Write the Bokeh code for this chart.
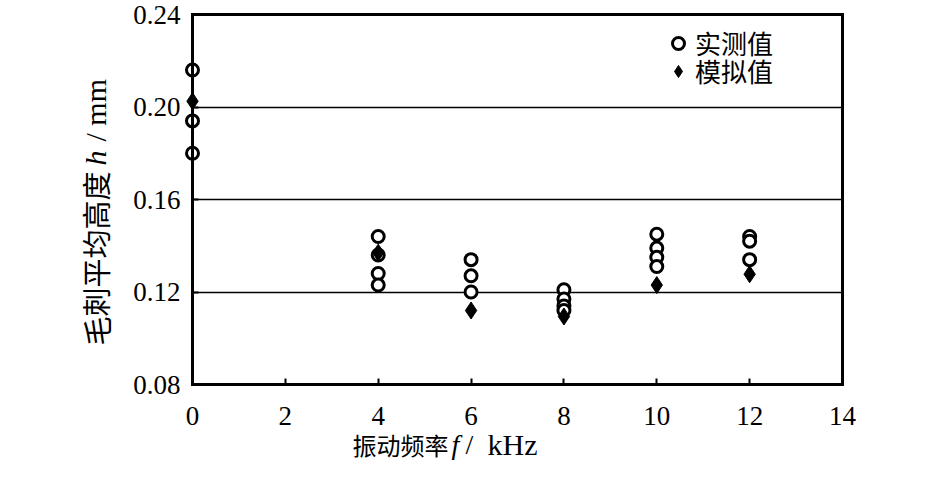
from bokeh.plotting import figure
from bokeh.models import (Range1d, FixedTicker, Label, Legend, LegendItem,
                          NumeralTickFormatter, LinearAxis)
from bokeh.embed import file_html
from bokeh.resources import INLINE

# measured values (实测值)
meas_f = [0, 0, 0, 4, 4, 4, 4, 6, 6, 6, 8, 8, 8, 8, 10, 10, 10, 10, 12, 12, 12]
meas_h = [0.216, 0.194, 0.180,
          0.144, 0.136, 0.128, 0.123,
          0.134, 0.127, 0.120,
          0.121, 0.117, 0.114, 0.112,
          0.145, 0.139, 0.135, 0.131,
          0.144, 0.142, 0.134]
# simulated values (模拟值)
sim_f = [0, 4, 6, 8, 10, 12]
sim_h = [0.2025, 0.137, 0.112, 0.1094, 0.123, 0.1277]

x_ticks = [0, 2, 4, 6, 8, 10, 12, 14]
y_ticks = [0.08, 0.12, 0.16, 0.20, 0.24]
y_grid = [0.12, 0.16, 0.20]
x_lim = (0, 14)
y_lim = (0.08, 0.24)

SERIF = "Liberation Serif, 'Noto Sans CJK SC'"
CJK = "'Noto Sans CJK SC', Liberation Serif"

W, H = 929, 464
# plot box inside the canvas (pixels): left, right, top, bottom
BL, BR, BT, BB = 192, 842, 14, 384
xs = (BR - BL) / (x_lim[1] - x_lim[0])
ys = (BB - BT) / (y_lim[1] - y_lim[0])
x_range = Range1d(x_lim[0] - BL / xs, x_lim[1] + (W - BR) / xs)
y_range = Range1d(y_lim[0] - (H - BB) / ys, y_lim[1] + BT / ys)

p = figure(width=W, height=H, output_backend="svg", toolbar_location=None,
           x_range=x_range, y_range=y_range, x_axis_location=None, y_axis_location=None,
           min_border=0)
p.background_fill_color = "white"
p.border_fill_color = "white"
p.outline_line_color = None
p.xgrid.visible = False
p.ygrid.visible = False


def style_main(ax):
    ax.axis_line_width = 3
    ax.axis_line_color = "black"
    ax.axis_line_cap = "square"
    ax.major_tick_in = 6
    ax.major_tick_out = 0
    ax.major_tick_line_width = 2
    ax.major_tick_line_color = "black"
    ax.minor_tick_line_color = None
    ax.major_label_text_font = SERIF
    ax.major_label_text_font_size = "27px"
    ax.major_label_text_color = "black"


xaxis = LinearAxis(fixed_location=y_lim[0], bounds=x_lim, ticker=FixedTicker(ticks=x_ticks),
                   major_label_standoff=22)
style_main(xaxis)
p.add_layout(xaxis, "below")

yaxis = LinearAxis(fixed_location=x_lim[0], bounds=y_lim, ticker=FixedTicker(ticks=y_ticks),
                   formatter=NumeralTickFormatter(format="0.00"), major_label_standoff=12)
style_main(yaxis)
p.add_layout(yaxis, "left")


def plain_line(side, loc, bounds, width, level="guide"):
    ax = LinearAxis(fixed_location=loc, bounds=bounds, ticker=FixedTicker(ticks=[]),
                    axis_line_width=width, axis_line_color="black", axis_line_cap="square",
                    major_tick_line_color=None, minor_tick_line_color=None,
                    major_label_text_font_size="0px", level=level)
    p.add_layout(ax, side)


# box top and right edges
plain_line("above", y_lim[1], x_lim, 3)
plain_line("right", x_lim[1], y_lim, 3)
# horizontal grid lines
for g in y_grid:
    plain_line("below", g, x_lim, 1.6, level="underlay")

r_meas = p.scatter(meas_f, meas_h, marker="circle", size=12, fill_color="white",
                   line_color="black", line_width=3)
r_sim = p.scatter(sim_f, sim_h, marker="diamond", size=17, fill_color="black",
                  line_color="black", line_width=1)


def one_legend(label, rend, y_off):
    return Legend(items=[LegendItem(label=label, renderers=[rend])],
                  location=(663, y_off), padding=0, margin=0, spacing=0,
                  glyph_width=30, glyph_height=30, label_height=28, label_standoff=2,
                  border_line_color=None, background_fill_alpha=0,
                  label_text_font=CJK, label_text_font_size="26px", label_text_color="black")


p.add_layout(one_legend("实测值", r_meas, 403))
p.add_layout(one_legend("模拟值", r_sim, 375))

# y axis label pieces (rotated), screen units from canvas bottom-left
for txt, yo, font, style, size in [("毛刺平均高度", 119, "Noto Sans CJK SC", "normal", "29px"),
                                    ("h", 299, "Liberation Serif", "italic", "30px"),
                                    ("/ mm", 323, "Liberation Serif", "normal", "30px")]:
    p.add_layout(Label(x=95, y=yo, x_units="screen", y_units="screen", text=txt,
                       angle=1.5708, text_align="left", text_baseline="middle",
                       text_font=font, text_font_style=style, text_font_size=size,
                       text_color="black"))

# x axis label pieces, screen units from canvas bottom-left
for txt, xo, align, font, style, size in [("振动频率", 448, "right", "Noto Sans CJK SC", "normal", "24px"),
                                           ("f", 451, "left", "Liberation Serif", "italic", "28px"),
                                           ("/", 465, "left", "Liberation Serif", "normal", "28px"),
                                           ("kHz", 487, "left", "Liberation Serif", "normal", "30px")]:
    p.add_layout(Label(x=xo, y=20, x_units="screen", y_units="screen", text=txt,
                       text_align=align, text_baseline="middle", text_font=font,
                       text_font_style=style, text_font_size=size, text_color="black"))

open("out.html", "w").write(file_html(p, INLINE))
